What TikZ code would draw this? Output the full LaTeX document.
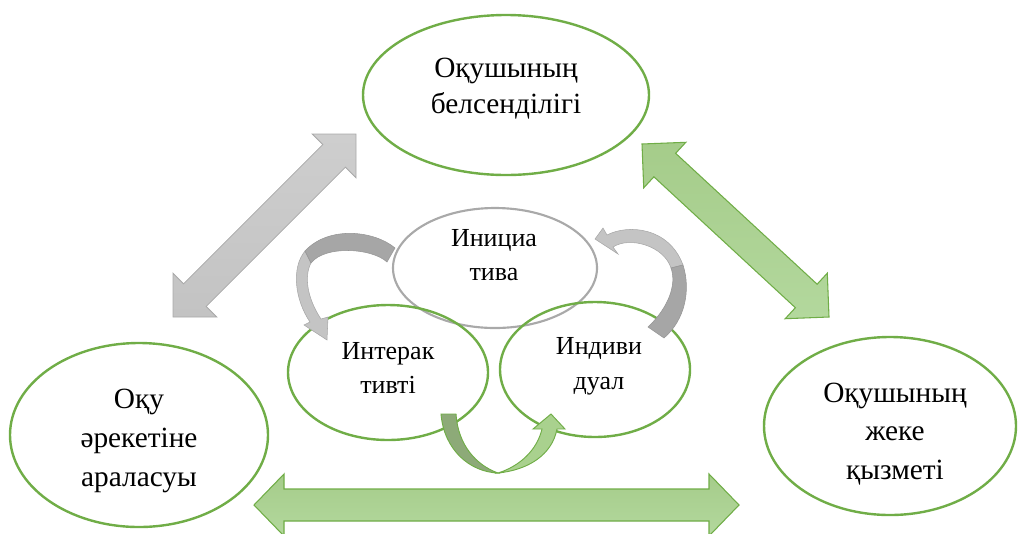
\documentclass[tikz,border=0pt]{standalone}
\usepackage{fontspec}
\setmainfont{Liberation Serif}
\usetikzlibrary{shapes.geometric}
\definecolor{lgreen}{HTML}{70AD47}
\definecolor{fgreenA}{HTML}{A5CC8A}
\definecolor{fgreenB}{HTML}{B3D89D}
\definecolor{fgreen}{HTML}{A9D18E}
\definecolor{dgreen}{HTML}{8DAA78}
\definecolor{lgray}{HTML}{A9A9A9}
\definecolor{fgrayA}{HTML}{CECECE}
\definecolor{fgrayB}{HTML}{C3C3C3}
\definecolor{cgrayL}{HTML}{C4C4C4}
\definecolor{cgrayD}{HTML}{A6A6A6}
\begin{document}
\begin{tikzpicture}[x=0.75pt,y=-0.75pt,
  gell/.style={draw=lgreen, line width=1.8pt, ellipse, inner sep=0pt, outer sep=0pt},
  grell/.style={draw=lgray, line width=1.6pt, ellipse, inner sep=0pt, outer sep=0pt},
  bigtxt/.style={align=center, inner sep=0pt, font=\fontsize{22}{27}\selectfont},
  bigtxtw/.style={align=center, inner sep=0pt, font=\fontsize{22}{29}\selectfont},
  smalltxt/.style={align=center, inner sep=0pt, font=\fontsize{19.5}{26}\selectfont},
  greenarrow/.style={draw=lgreen, line width=0.8pt, top color=fgreenA, bottom color=fgreenB},
  grayarrow/.style={draw=lgray, line width=0.6pt, top color=fgrayA, bottom color=fgrayB},
  curvelight/.style={fill=cgrayL, draw=cgrayL!85!black, line width=0.4pt},
  curvedark/.style={fill=cgrayD, draw=cgrayD!90!black, line width=0.4pt},
  ugreenD/.style={fill=dgreen, draw=lgreen, line width=0.7pt},
  ugreenL/.style={fill=fgreen, draw=lgreen, line width=0.7pt}]
\useasboundingbox (0,0) rectangle (1019,533);
\clip (0,0) rectangle (1019,533);

% ellipses
\node[gell, minimum width=214.5pt, minimum height=120pt] (top) at (506,95) {};
\node[gell, minimum width=193.5pt, minimum height=138pt] (left) at (139,435) {};
\node[gell, minimum width=189pt, minimum height=133.5pt] (right) at (890,426) {};
\node[grell, minimum width=153pt, minimum height=90pt] (ini) at (495,268) {};
\node[gell, minimum width=150pt, minimum height=101.25pt] (inter) at (388,372.5) {};
\node[gell, minimum width=142.5pt, minimum height=101.25pt] (indiv) at (595,369.5) {};

% gray diagonal double arrow (left ellipse <-> top ellipse)
\coordinate (gA) at (356,134);
\coordinate (gB) at (173,317);
\path[grayarrow] (gA) -- (356,177.8) -- (345.4,167.2) -- (206.2,306.4) -- (216.8,317) -- (gB)
  -- (173,273.2) -- (183.6,283.8) -- (322.8,144.6) -- (312.2,134) -- cycle;

% green diagonal double arrow (top ellipse <-> right ellipse)
\coordinate (rA) at (642,144);
\coordinate (rB) at (829,317);
\path[greenarrow] (rA) -- (685.81,142.29) -- (675.63,153.3) -- (817.11,284.2) -- (827.29,273.19) -- (rB)
  -- (785.19,318.71) -- (795.37,307.7) -- (653.89,176.8) -- (643.71,187.81) -- cycle;

% green bottom double arrow (left ellipse <-> right ellipse)
\coordinate (bA) at (254,505);
\coordinate (bB) at (739,505);
\path[greenarrow] (bA) -- (284,474) -- (284,489) -- (709,489) -- (709,474) -- (bB)
  -- (709,536) -- (709,521) -- (284,521) -- (284,536) -- cycle;

% left curved gray arrow (ini -> inter)
\path[curvelight] (305,251) .. controls (291,268) and (295,300) .. (310,322) -- (304,325) -- (327,340)
  -- (328,317) -- (321,319) .. controls (307,298) and (304,276) .. (311,263) -- cycle;
\path[curvedark] (395,248) .. controls (375,231) and (329,225) .. (305,251) -- (311,263)
  .. controls (325,245) and (372,248) .. (387,262) -- cycle;

% right curved gray arrow (indiv -> ini)
\path[curvelight] (607,235) -- (603,228) -- (595,239) -- (618,254) -- (613,247)
  .. controls (630,236) and (664,246) .. (671,268) -- (683,265)
  .. controls (669,227) and (628,224) .. (607,235) -- cycle;
\path[curvedark] (683,265) .. controls (691,290) and (685,320) .. (664,338) -- (648,327)
  .. controls (668,308) and (677,285) .. (671,268) -- cycle;

% green U arrow (inter -> indiv)
\path[ugreenD] (441,414) -- (456,414) .. controls (458,445) and (476,465) .. (498,473)
  .. controls (470,472) and (444,450) .. (441,414) -- cycle;
\path[ugreenL] (498,473) .. controls (528,470) and (552,455) .. (557,429) -- (565,429) -- (551,414)
  -- (533,429) -- (542,429) .. controls (537,450) and (520,466) .. (498,473) -- cycle;

% texts
\node[bigtxt] (ttop) at (506,89) {Оқушының\\белсенділігі};
\node[bigtxtw] (tleft) at (139,441) {Оқу\\әрекетіне\\араласуы};
\node[bigtxtw] (tright) at (895,434) {Оқушының\\жеке\\қызметі};
\node[smalltxt] (tini) at (494,255) {Инициа\\тива};
\node[smalltxt] (tinter) at (388,368) {Интерак\\тивті};
\node[smalltxt] (tindiv) at (599,366) {Индиви\\дуал};
\end{tikzpicture}
\end{document}
